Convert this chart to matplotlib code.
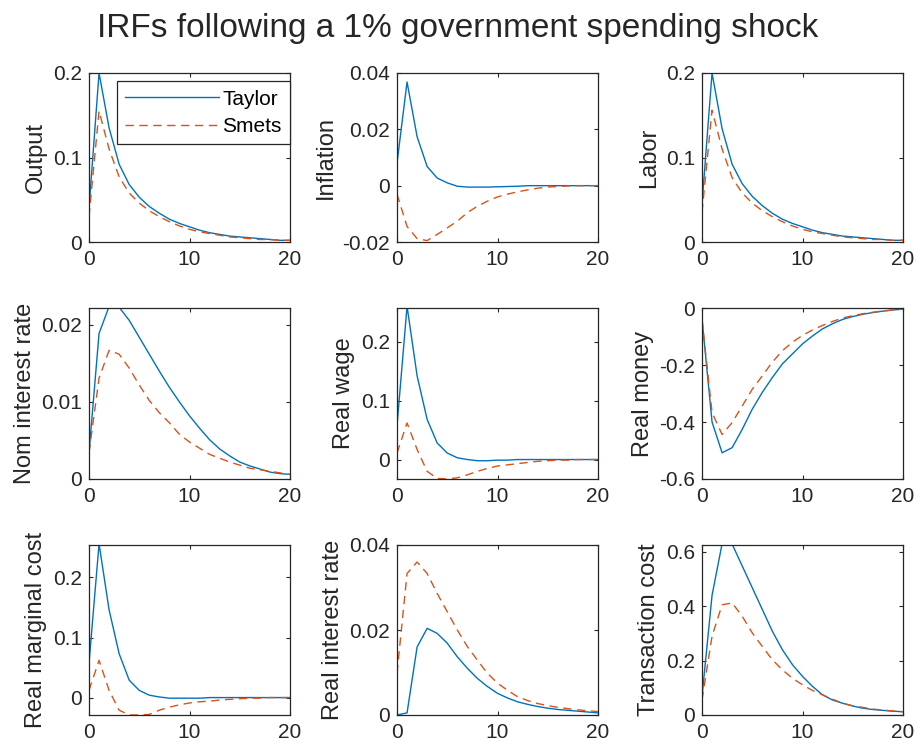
import numpy as np
import matplotlib.pyplot as plt
from matplotlib.ticker import FormatStrFormatter

plt.rcParams['font.family'] = ['Liberation Sans', 'DejaVu Sans']

# periods after the shock
periods = np.arange(21)

# IRFs under the two policy rules, one list per variable
output_taylor = [0.04, 0.2, 0.135, 0.092, 0.068, 0.053, 0.042, 0.034, 0.027, 0.022,
                 0.018, 0.014, 0.011, 0.009, 0.007, 0.006, 0.005, 0.004, 0.003, 0.002, 0.002]
output_smets = [0.03, 0.155, 0.11, 0.077, 0.058, 0.046, 0.037, 0.030, 0.024, 0.019,
                0.015, 0.012, 0.010, 0.008, 0.006, 0.005, 0.004, 0.003, 0.003, 0.002, 0.002]

infl_taylor = [0.008, 0.0368, 0.0174, 0.0068, 0.0027, 0.001, -0.0002, -0.0005, -0.0005, -0.0005,
               -0.0004, -0.0003, -0.0002, 0.0, 0.0, 0.0, 0.0, 0.0, 0.0, 0.0, 0.0]
infl_smets = [-0.003, -0.0145, -0.0188, -0.0195, -0.0173, -0.015, -0.0126, -0.0096, -0.0073, -0.0055,
              -0.0040, -0.0030, -0.0022, -0.0015, -0.0009, -0.0005, -0.0003, -0.0001, 0.0, 0.0, 0.0]

labor_taylor = [0.045, 0.2, 0.134, 0.092, 0.069, 0.054, 0.043, 0.034, 0.027, 0.022,
                0.018, 0.014, 0.011, 0.009, 0.007, 0.006, 0.005, 0.004, 0.003, 0.002, 0.002]
labor_smets = [0.035, 0.156, 0.11, 0.076, 0.058, 0.046, 0.037, 0.030, 0.024, 0.019,
               0.015, 0.012, 0.010, 0.008, 0.006, 0.005, 0.004, 0.003, 0.003, 0.002, 0.002]

nom_taylor = [0.0034, 0.0189, 0.0224, 0.0223, 0.0206, 0.0184, 0.0162, 0.0140, 0.0119, 0.0100,
              0.0082, 0.0066, 0.0051, 0.0039, 0.0030, 0.0022, 0.0017, 0.0013, 0.0009, 0.0007, 0.0006]
nom_smets = [0.0034, 0.0131, 0.0167, 0.0162, 0.0144, 0.0122, 0.0102, 0.0086, 0.0073, 0.0058,
             0.0048, 0.0040, 0.0032, 0.0027, 0.0022, 0.0018, 0.0014, 0.0012, 0.0010, 0.0008, 0.0006]

wage_taylor = [0.057, 0.26, 0.142, 0.068, 0.028, 0.011, 0.003, 0.0, -0.002, -0.002,
               -0.001, -0.001, 0.0, 0.0, 0.0, 0.0, 0.0, 0.0, 0.0, 0.0, 0.0]
wage_smets = [0.011, 0.062, 0.017, -0.020, -0.032, -0.033, -0.031, -0.026, -0.020, -0.015,
              -0.011, -0.009, -0.007, -0.005, -0.003, -0.002, -0.001, -0.001, 0.0, 0.0, 0.0]

money_taylor = [-0.038, -0.40, -0.508, -0.49, -0.426, -0.355, -0.296, -0.244, -0.196, -0.161,
                -0.126, -0.098, -0.073, -0.055, -0.040, -0.030, -0.022, -0.016, -0.011, -0.007, -0.004]
money_smets = [-0.04, -0.367, -0.444, -0.402, -0.344, -0.285, -0.238, -0.190, -0.150, -0.120,
               -0.096, -0.077, -0.061, -0.047, -0.035, -0.027, -0.020, -0.015, -0.010, -0.007, -0.004]

mc_taylor = [0.057, 0.256, 0.146, 0.073, 0.029, 0.012, 0.004, 0.001, -0.001, -0.001,
             -0.001, -0.001, 0.0, 0.0, 0.0, 0.0, 0.0, 0.0, 0.0, 0.0, 0.0]
mc_smets = [0.012, 0.062, 0.012, -0.021, -0.029, -0.029, -0.028, -0.021, -0.016, -0.012,
            -0.009, -0.007, -0.006, -0.004, -0.003, -0.002, -0.001, -0.001, 0.0, 0.0, 0.0]

rir_taylor = [0.0, 0.0005, 0.016, 0.0204, 0.0192, 0.0169, 0.0137, 0.0110, 0.0086, 0.0067,
              0.0051, 0.0040, 0.0031, 0.0025, 0.0020, 0.0016, 0.0013, 0.0011, 0.0009, 0.0007, 0.0005]
rir_smets = [0.0098, 0.0333, 0.0360, 0.0333, 0.0286, 0.0243, 0.0200, 0.0161, 0.0129, 0.0098,
             0.0075, 0.0058, 0.0043, 0.0034, 0.0027, 0.0022, 0.0018, 0.0015, 0.0012, 0.0010, 0.0008]

tc_taylor = [0.068, 0.44, 0.63, 0.628, 0.548, 0.468, 0.388, 0.308, 0.240, 0.185,
             0.142, 0.105, 0.074, 0.055, 0.043, 0.033, 0.025, 0.020, 0.017, 0.014, 0.012]
tc_smets = [0.055, 0.29, 0.405, 0.412, 0.363, 0.302, 0.252, 0.203, 0.166, 0.135,
            0.111, 0.090, 0.074, 0.058, 0.043, 0.034, 0.028, 0.022, 0.018, 0.015, 0.012]

labels = ['Output', 'Inflation', 'Labor',
          'Nom interest rate', 'Real wage', 'Real money',
          'Real marginal cost', 'Real interest rate', 'Transaction cost']
taylor = [output_taylor, infl_taylor, labor_taylor,
          nom_taylor, wage_taylor, money_taylor,
          mc_taylor, rir_taylor, tc_taylor]
smets = [output_smets, infl_smets, labor_smets,
         nom_smets, wage_smets, money_smets,
         mc_smets, rir_smets, tc_smets]

# tight y limits and tick positions per panel
ylims = [(0, 0.2), (-0.02, 0.04), (0, 0.2),
         (0, 0.0222), (-0.033, 0.257), (-0.6, 0),
         (-0.029, 0.254), (0, 0.04), (0, 0.625)]
yticks = [[0, 0.1, 0.2], [-0.02, 0, 0.02, 0.04], [0, 0.1, 0.2],
          [0, 0.01, 0.02], [0, 0.1, 0.2], [-0.6, -0.4, -0.2, 0],
          [0, 0.1, 0.2], [0, 0.02, 0.04], [0, 0.2, 0.4, 0.6]]

blue = '#0072BD'
orange = '#D95319'

W, H = 916, 749
fig = plt.figure(figsize=(W / 100, H / 100), dpi=100)

lefts = [89, 397, 702]
tops = [73, 308, 545]
bottoms = [242, 479, 715]
width = 201

for i in range(9):
    r, c = divmod(i, 3)
    ax = fig.add_axes([lefts[c] / W, 1 - bottoms[r] / H,
                       width / W, (bottoms[r] - tops[r]) / H])
    ax.plot(periods, taylor[i], color=blue, lw=1.0, label='Taylor')
    ax.plot(periods, smets[i], color=orange, lw=1.0, dashes=(6, 4), label='Smets')
    ax.set_xlim(0, 20)
    ax.set_ylim(*ylims[i])
    ax.set_xticks([0, 10, 20])
    ax.set_yticks(yticks[i])
    ax.yaxis.set_major_formatter(FormatStrFormatter('%g'))
    ax.tick_params(direction='in', length=3, width=0.8, labelsize=15,
                   top=True, right=True, colors='#262626')
    ax.tick_params(axis='x', pad=6)
    ax.tick_params(axis='y', pad=5)
    for s in ax.spines.values():
        s.set_linewidth(0.9)
        s.set_color('#262626')
    ax.set_ylabel(labels[i], fontsize=17, color='#262626', labelpad=4)
    if i == 0:
        leg = ax.legend(loc='upper right', bbox_to_anchor=(1.0, 0.95),
                        borderaxespad=0, fontsize=15, handlelength=4.5,
                        handletextpad=0.15, labelspacing=0.4,
                        fancybox=False, framealpha=1, edgecolor='#262626')
        leg.get_frame().set_linewidth(0.9)

fig.text(0.5, 1 - 28 / H, 'IRFs following a 1% government spending shock',
         ha='center', va='center', fontsize=24, color='#262626')

fig.savefig('out.png', dpi=100)
